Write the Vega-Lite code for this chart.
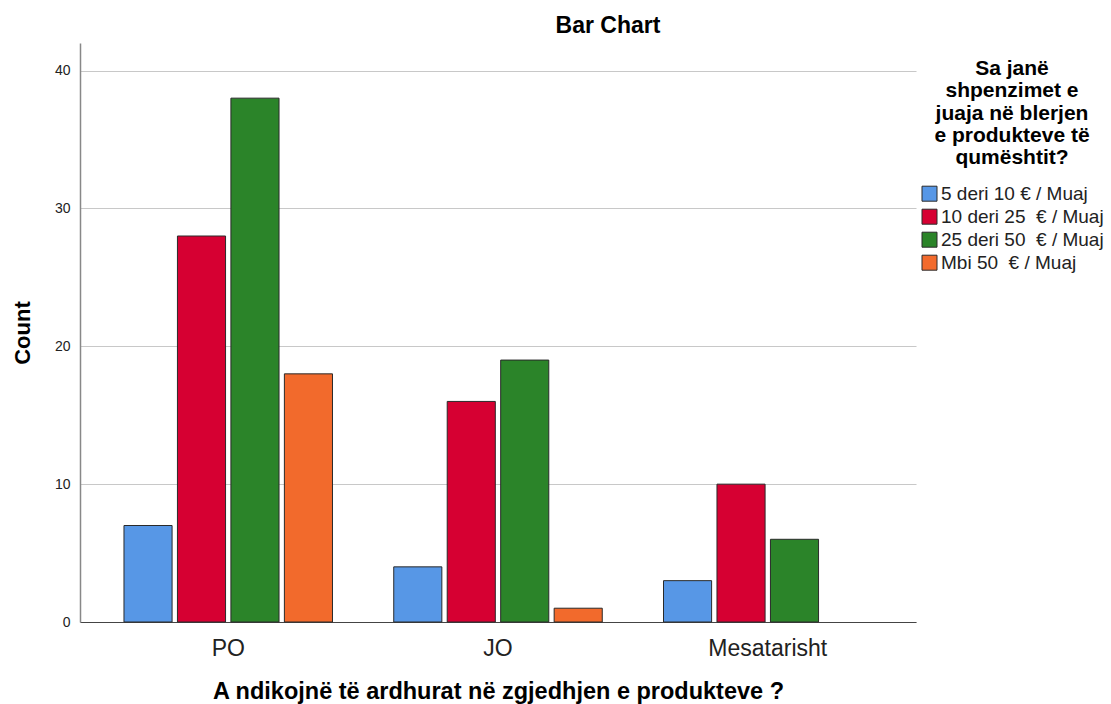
{
  "$schema": "https://vega.github.io/schema/vega-lite/v6.json",
  "width": 836,
  "height": 579,
  "autosize": "none",
  "padding": {"left": 80, "top": 43, "right": 195, "bottom": 82},
  "background": "white",
  "config": {
    "font": "Liberation Sans",
    "view": {"stroke": null}
  },
  "title": {
    "text": "Bar Chart",
    "font": "Liberation Sans",
    "fontSize": 23,
    "fontWeight": "bold",
    "color": "#000000",
    "anchor": "middle",
    "dx": 110,
    "offset": 5
  },
  "data": {
    "values": [
      {"group": "PO", "spend": "5 deri 10 € / Muaj", "count": 7},
      {"group": "PO", "spend": "10 deri 25  € / Muaj", "count": 28},
      {"group": "PO", "spend": "25 deri 50  € / Muaj", "count": 38},
      {"group": "PO", "spend": "Mbi 50  € / Muaj", "count": 18},
      {"group": "JO", "spend": "5 deri 10 € / Muaj", "count": 4},
      {"group": "JO", "spend": "10 deri 25  € / Muaj", "count": 16},
      {"group": "JO", "spend": "25 deri 50  € / Muaj", "count": 19},
      {"group": "JO", "spend": "Mbi 50  € / Muaj", "count": 1},
      {"group": "Mesatarisht", "spend": "5 deri 10 € / Muaj", "count": 3},
      {"group": "Mesatarisht", "spend": "10 deri 25  € / Muaj", "count": 10},
      {"group": "Mesatarisht", "spend": "25 deri 50  € / Muaj", "count": 6}
    ]
  },
  "mark": {"type": "bar", "stroke": "#2a2a2a", "strokeWidth": 1},
  "encoding": {
    "x": {
      "field": "group",
      "type": "nominal",
      "sort": ["PO", "JO", "Mesatarisht"],
      "scale": {"paddingInner": 0.227, "paddingOuter": 0.163},
      "axis": {
        "title": "A ndikojnë të ardhurat në zgjedhjen e produkteve ?",
        "titleFontSize": 23.5,
        "titleFontWeight": "bold",
        "titleColor": "#000000",
        "titlePadding": 19,
        "labelFontSize": 23,
        "labelColor": "#222222",
        "labelAngle": 0,
        "labelPadding": 15,
        "ticks": false,
        "domainColor": "#444444",
        "domainWidth": 1.2,
        "grid": false
      }
    },
    "xOffset": {
      "field": "spend",
      "type": "nominal",
      "sort": ["5 deri 10 € / Muaj", "10 deri 25  € / Muaj", "25 deri 50  € / Muaj", "Mbi 50  € / Muaj"],
      "scale": {"paddingInner": 0.1, "paddingOuter": 0}
    },
    "y": {
      "field": "count",
      "type": "quantitative",
      "scale": {"domain": [0, 42], "nice": false},
      "axis": {
        "title": "Count",
        "titleFontSize": 22,
        "titleFontWeight": "bold",
        "titleColor": "#000000",
        "titlePadding": 20,
        "values": [0, 10, 20, 30, 40],
        "labelFontSize": 14,
        "labelColor": "#222222",
        "labelPadding": 10,
        "ticks": false,
        "domainColor": "#888888",
        "domainWidth": 1.5,
        "grid": true,
        "gridColor": "#c8c8c8",
        "gridWidth": 1.2
      }
    },
    "color": {
      "field": "spend",
      "type": "nominal",
      "sort": ["5 deri 10 € / Muaj", "10 deri 25  € / Muaj", "25 deri 50  € / Muaj", "Mbi 50  € / Muaj"],
      "scale": {
        "domain": ["5 deri 10 € / Muaj", "10 deri 25  € / Muaj", "25 deri 50  € / Muaj", "Mbi 50  € / Muaj"],
        "range": ["#5797E6", "#D60032", "#2B8429", "#F26A2C"]
      },
      "legend": {
        "orient": "none",
        "legendX": 840,
        "legendY": 15,
        "title": ["Sa janë", "shpenzimet e", "juaja në blerjen", "e produkteve të", "qumështit?"],
        "titleFontSize": 21,
        "titleFontWeight": "bold",
        "titleColor": "#000000",
        "titleAlign": "center",
        "titleAnchor": "middle",
        "titleLineHeight": 22.3,
        "titlePadding": 16,
        "labelFontSize": 19,
        "labelColor": "#222222",
        "labelOffset": 2,
        "labelLimit": 300,
        "labelExpr": "replace(datum.label, '  ', ' \u00a0')",
        "symbolType": "square",
        "symbolSize": 225,
        "symbolStrokeColor": "#2a2a2a",
        "symbolStrokeWidth": 1,
        "symbolOpacity": 1,
        "rowPadding": 3
      }
    }
  }
}
